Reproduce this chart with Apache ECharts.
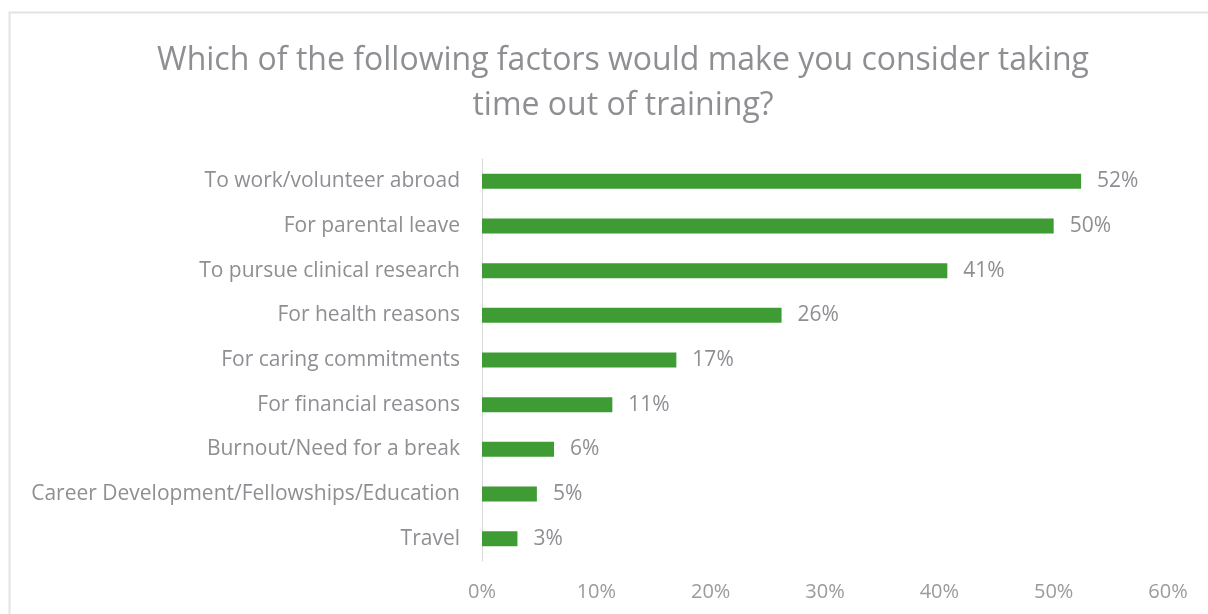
<!DOCTYPE html>
<html>
<head>
<meta charset="utf-8">
<script src="https://cdn.jsdelivr.net/npm/echarts@6/dist/echarts.min.js"></script>
<style>
  html, body { margin: 0; padding: 0; background: #fff; }
  #main { width: 1208px; height: 614px; }
</style>
</head>
<body>
<div id="main"></div>
<script>
var titleText = 'Which of the following factors would make you consider taking\ntime out of training?';
var categories = ['To work/volunteer abroad', 'For parental leave', 'To pursue clinical research',
  'For health reasons', 'For caring commitments', 'For financial reasons',
  'Burnout/Need for a break', 'Career Development/Fellowships/Education', 'Travel'];
// bar lengths (percent)
var values = [52.4, 50, 40.7, 26.2, 17, 11.4, 6.3, 4.8, 3.1];
var xTicks = [0, 10, 20, 30, 40, 50, 60];

var chart = echarts.init(document.getElementById('main'), null, { renderer: 'canvas' });

var option = {
    backgroundColor: '#ffffff',
    animation: false,
    graphic: [{
        type: 'rect',
        shape: { x: 9.5, y: 12.5, width: 1220, height: 620 },
        style: { fill: '#ffffff', stroke: '#e3e3e3', lineWidth: 2 },
        z: -10
    }],
    title: {
        text: titleText,
        left: 618,
        textAlign: 'center',
        top: 33,
        textStyle: {
            fontFamily: 'Open Sans',
            fontWeight: 'normal',
            fontSize: 32,
            color: '#8e8f93',
            lineHeight: 45
        }
    },
    grid: {
        left: 482,
        right: 40,
        top: 159,
        bottom: 53,
        containLabel: false
    },
    xAxis: {
        type: 'value',
        min: 0,
        max: 60,
        interval: 10,
        axisLine: { show: false },
        axisTick: { show: false },
        splitLine: { show: false },
        axisLabel: {
            margin: 21,
            fontFamily: 'Open Sans',
            fontSize: 20,
            color: '#9a9b9f',
            formatter: function (v) { return xTicks.indexOf(v) >= 0 ? v + '%' : ''; }
        }
    },
    yAxis: {
        type: 'category',
        inverse: true,
        data: categories,
        axisLine: { show: true, lineStyle: { color: '#d9d9d9', width: 1 } },
        axisTick: { show: false },
        axisLabel: {
            margin: 22,
            fontFamily: 'Open Sans',
            fontSize: 21,
            color: '#8e8f93'
        }
    },
    series: [{
        type: 'bar',
        data: values,
        barWidth: 15,
        itemStyle: { color: '#3f9c35' },
        label: {
            show: true,
            position: 'right',
            distance: 16,
            fontFamily: 'Open Sans',
            fontSize: 21,
            color: '#8e8f93',
            formatter: function (p) { return Math.round(p.value) + '%'; }
        }
    }]
};

chart.setOption(option);
</script>
</body>
</html>
